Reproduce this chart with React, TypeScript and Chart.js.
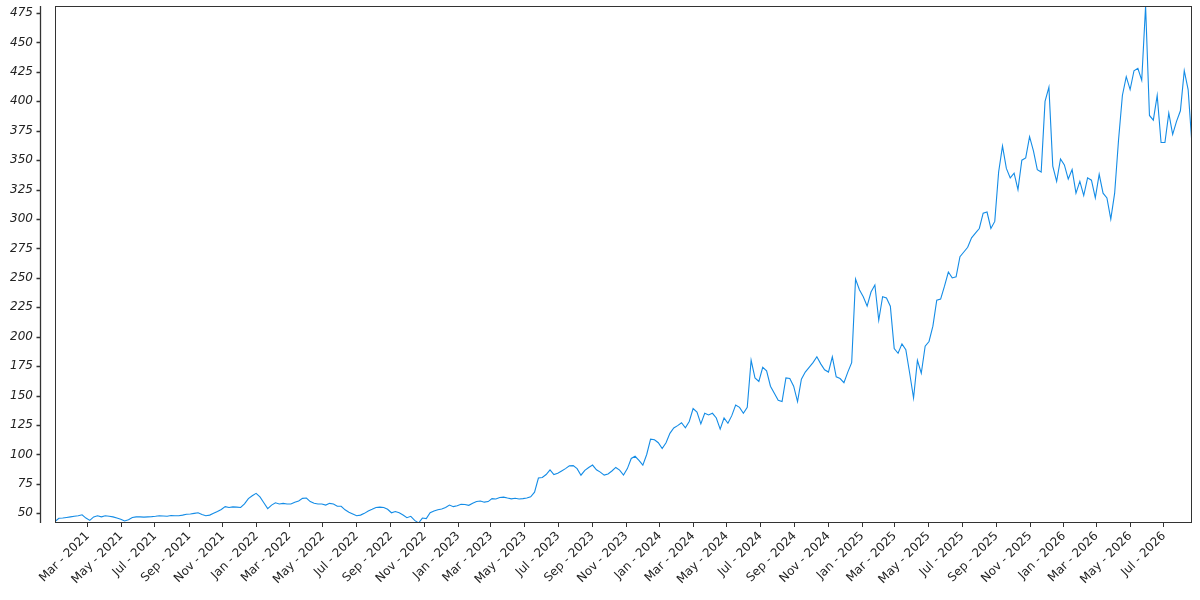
import React, { useEffect, useRef } from 'react';
import { Chart, registerables } from 'chart.js';

Chart.register(...registerables);

// Weekly samples starting at this date
const startDate = '2021-01-01';
const stepDays = 7;

const values: number[] = [
  43, 45.8, 46, 46.5, 47, 47.5, 48, 48.8, 46, 44,
  47, 48, 47, 48, 47.5, 47, 46, 45, 43.5, 44.5,
  46.5, 47, 47, 46.8, 47, 47.2, 47.5, 48, 47.8, 47.5,
  48.2, 48, 48, 48.5, 49.2, 49.5, 50, 50.5, 49, 48,
  48.5, 50, 51.5, 53.3, 55.7, 55, 55.5, 55.3, 55, 58,
  62.5, 65, 67, 64, 59, 54, 57, 59, 58, 58.5,
  58, 58, 59.5, 60.5, 62.7, 63, 60, 58.5, 58, 58,
  57, 58.5, 58, 56, 56, 53, 51, 49.5, 48, 48.5,
  50, 52, 53.4, 55, 55.3, 55, 53.5, 50.5, 51.5, 50.5,
  48.6, 46.3, 47.5, 44, 41.8, 46, 45.5, 50.5, 52, 53,
  53.7, 55, 57, 55.7, 56.5, 57.7, 57.5, 56.8, 58.5, 60,
  60.5, 59.5, 60, 62.5, 62.2, 63.5, 63.8, 63, 62.3, 62.8,
  62.2, 62.5, 63, 64, 68, 80, 80.5, 83, 87, 83,
  84, 86, 88, 90.3, 90.5, 88, 82.4, 86.5, 89, 91,
  87, 85, 82.5, 83.5, 86, 89, 86.7, 82.5, 88, 96.6,
  98.5, 95, 91, 100, 113, 112.5, 110, 105, 110, 118,
  122.5, 124.5, 127, 122.7, 128, 139, 136, 126, 135, 133.6,
  135, 131, 121.5, 131, 126.5, 133, 142, 140, 135, 140,
  180, 165, 162, 174, 171, 158, 152, 146, 145, 165,
  164.5, 158, 145, 164, 170, 174, 178, 183, 177, 172,
  170, 183, 166, 164.5, 161, 170, 178, 249, 240, 234,
  226, 238, 244, 214, 234, 233, 226, 190, 186, 194,
  189, 169, 148, 180, 169, 192, 196, 209, 231, 232,
  243, 255, 250, 251, 268, 272, 276, 284, 288, 292,
  305, 306, 292, 298, 340, 362, 343, 335, 339, 325,
  350, 352, 370, 358, 342, 340, 400, 412, 345, 332,
  351, 346, 334, 342, 322, 332, 320, 335, 333, 318,
  338, 322, 318, 300, 322, 367, 405, 421, 410, 426,
  428, 418, 481, 388, 384, 405, 365, 365, 390, 372,
  383, 392, 426, 410, 363,
];

const yTicks: number[] = [50, 75, 100, 125, 150, 175, 200, 225, 250, 275, 300, 325, 350, 375, 400, 425, 450, 475];

const xTickDates: string[] = [
  '2021-03-01', '2021-05-01', '2021-07-01', '2021-09-01', '2021-11-01',
  '2022-01-01', '2022-03-01', '2022-05-01', '2022-07-01', '2022-09-01', '2022-11-01',
  '2023-01-01', '2023-03-01', '2023-05-01', '2023-07-01', '2023-09-01', '2023-11-01',
  '2024-01-01', '2024-03-01', '2024-05-01', '2024-07-01', '2024-09-01', '2024-11-01',
  '2025-01-01', '2025-03-01', '2025-05-01', '2025-07-01', '2025-09-01', '2025-11-01',
  '2026-01-01', '2026-03-01', '2026-05-01', '2026-07-01',
];

const monthNames = ['Jan', 'Feb', 'Mar', 'Apr', 'May', 'Jun', 'Jul', 'Aug', 'Sep', 'Oct', 'Nov', 'Dec'];

const DAY = 86400000;
function parseUTC(s: string): number {
  const [y, m, d] = s.split('-').map(Number);
  return Date.UTC(y, m - 1, d);
}
function fmt(v: number): string {
  const d = new Date(v);
  return monthNames[d.getUTCMonth()] + ' - ' + d.getUTCFullYear();
}

export default function App() {
  const ref = useRef<HTMLCanvasElement>(null);

  useEffect(() => {
    document.body.style.margin = '0';
    const canvas = ref.current;
    if (!canvas) return;
    const t0 = parseUTC(startDate);
    const points = values.map((v, i) => ({ x: t0 + i * stepDays * DAY, y: v }));
    const xTicks = xTickDates.map(parseUTC);
    const xMin = points[0].x;
    const xMax = points[points.length - 1].x;
    const yMin = Math.min(...values);
    const yMax = Math.max(...values);

    const framePlugin = {
      id: 'frame',
      afterDraw(chart: any) {
        const ctx = chart.ctx;
        const a = chart.chartArea;
        const yScale = chart.scales.y;
        ctx.save();
        // offset y-axis spine with ticks
        const sx = Math.round(a.left) - 15 + 0.5;
        ctx.strokeStyle = '#333';
        ctx.lineWidth = 1.3;
        ctx.beginPath();
        ctx.moveTo(sx, a.top);
        ctx.lineTo(sx, a.bottom);
        for (let i = 0; i < yTicks.length; i++) {
          const py = Math.round(yScale.getPixelForValue(yTicks[i])) + 0.5;
          ctx.moveTo(sx - 4, py);
          ctx.lineTo(sx, py);
        }
        ctx.stroke();
        // plot frame
        ctx.lineWidth = 1;
        const l = Math.round(a.left) + 0.5;
        const t = Math.round(a.top) + 0.5;
        const r = Math.round(a.right) - 0.5;
        const b = Math.round(a.bottom) - 0.5;
        ctx.strokeRect(l, t, r - l, b - t);
        ctx.restore();
      },
    };

    const chart = new Chart(canvas, {
      type: 'line',
      data: {
        datasets: [
          {
            data: points,
            borderColor: '#148ce6',
            borderWidth: 1.1,
            pointRadius: 0,
            fill: false,
            tension: 0,
          },
        ],
      },
      options: {
        animation: false,
        responsive: true,
        maintainAspectRatio: false,
        layout: { padding: { top: 6, right: 8, left: 0, bottom: 0 } },
        plugins: { legend: { display: false }, tooltip: { enabled: false } },
        scales: {
          x: {
            type: 'linear',
            min: xMin,
            max: xMax,
            afterBuildTicks: (scale: any) => {
              scale.ticks = xTicks.map((v) => ({ value: v }));
            },
            afterFit: (scale: any) => {
              scale.height = 77;
              scale.paddingLeft = 0;
              scale.paddingRight = 0;
            },
            grid: {
              display: true,
              drawOnChartArea: false,
              drawTicks: true,
              tickLength: 4,
              color: '#333',
            },
            border: { display: false },
            ticks: {
              autoSkip: false,
              maxRotation: 45,
              minRotation: 45,
              padding: 2,
              color: '#222',
              font: { family: 'DejaVu Sans', size: 12 },
              callback: (v: any) => fmt(Number(v)),
            },
          },
          y: {
            type: 'linear',
            min: yMin,
            max: yMax,
            afterBuildTicks: (scale: any) => {
              scale.ticks = yTicks.map((v) => ({ value: v }));
            },
            afterFit: (scale: any) => {
              scale.width = 55;
              scale.paddingTop = 0;
              scale.paddingBottom = 0;
            },
            grid: { display: false, drawTicks: false },
            border: { display: false },
            ticks: {
              padding: 22,
              color: '#222',
              font: { family: 'DejaVu Sans', size: 12, style: 'italic' },
              callback: (v: any) => String(v),
            },
          },
        },
      },
      plugins: [framePlugin],
    });

    return () => chart.destroy();
  }, []);

  return (
    <div style={{ width: 1200, height: 600, position: 'relative' }}>
      <canvas ref={ref} />
    </div>
  );
}
